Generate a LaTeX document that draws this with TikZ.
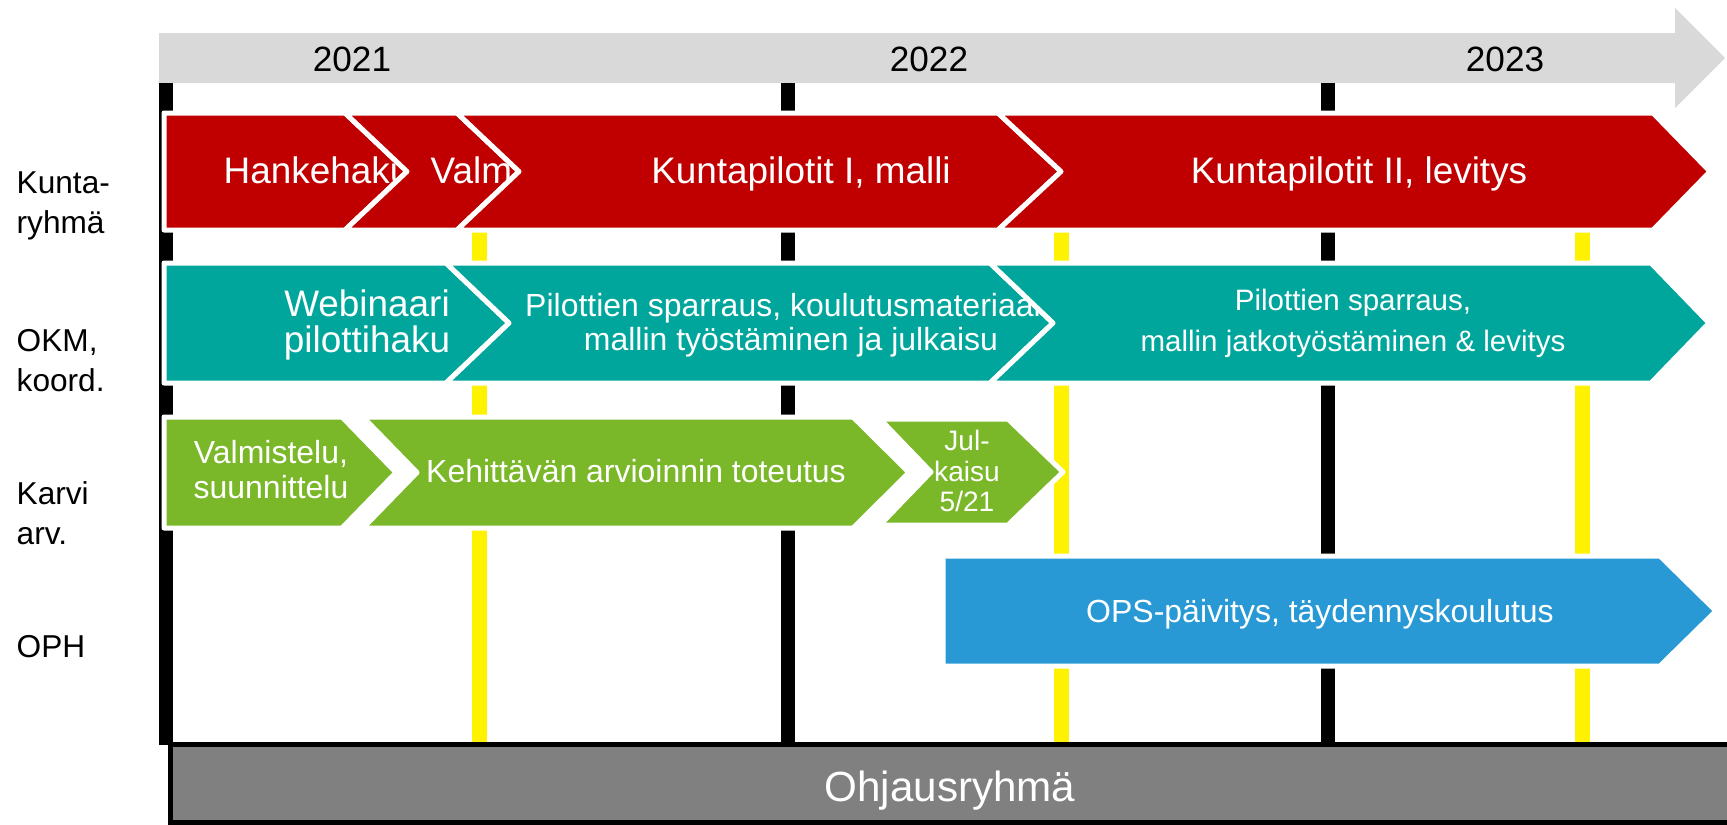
\documentclass[tikz,border=0pt]{standalone}
\usepackage{fontspec}
\setmainfont{Liberation Sans}
\definecolor{kuntared}{RGB}{192,0,0}
\definecolor{okmteal}{RGB}{0,166,156}
\definecolor{karvigreen}{RGB}{122,184,42}
\definecolor{ophblue}{RGB}{41,153,214}
\definecolor{axisgray}{RGB}{217,217,217}
\definecolor{boxgray}{RGB}{128,128,128}
\begin{document}
\begin{tikzpicture}[x=0.1mm,y=-0.1mm,
    bar/.style={draw=white,line width=0.5mm,line join=round},
    barlabel/.style={text=white,inner sep=0pt,align=center},
    rowlabel/.style={inner sep=0pt,align=left,anchor=north west,font=\fontsize{9pt}{11.4pt}\selectfont},
    blackline/.style={line width=1.4mm},
    yellowline/.style={yellow,line width=1.5mm}]
    \useasboundingbox (0,0) rectangle (1727,824);
    % time axis
    \fill[axisgray] (159,33) -- (1675,33) -- (1675,8) -- (1725,58) -- (1675,108) -- (1675,83) -- (159,83) -- cycle;
    \node[inner sep=0pt,anchor=base,font=\fontsize{10pt}{12pt}\selectfont] (y2021) at (352,71) {2021};
    \node[inner sep=0pt,anchor=base,font=\fontsize{10pt}{12pt}\selectfont] (y2022) at (929,71) {2022};
    \node[inner sep=0pt,anchor=base,font=\fontsize{10pt}{12pt}\selectfont] (y2023) at (1505,71) {2023};
    % vertical lines
    \draw[blackline] (166,83) -- (166,745);
    \draw[blackline] (788,83) -- (788,745);
    \draw[blackline] (1328,83) -- (1328,745);
    \foreach \x in {479,1061,1582}
        \draw[yellowline] (\x,113) -- (\x,745);
    % Kuntaryhma
    \filldraw[bar,fill=kuntared] (164,113) -- (345,113) -- (407,171.5) -- (345,230) -- (164,230) -- cycle;
    \node[barlabel,anchor=base west,font=\fontsize{10.5pt}{12pt}\selectfont] (haku) at (223,183) {Hankehaku};
    \filldraw[bar,fill=kuntared] (345,113) -- (457,113) -- (519,171.5) -- (457,230) -- (345,230) -- (407,171.5) -- cycle;
    \node[barlabel,anchor=base west,font=\fontsize{10.5pt}{12pt}\selectfont] (valm) at (430,183) {Valm};
    \filldraw[bar,fill=kuntared] (457,113) -- (998,113) -- (1061,171.5) -- (998,230) -- (457,230) -- (519,171.5) -- cycle;
    \node[barlabel,anchor=base,font=\fontsize{10.5pt}{12pt}\selectfont] (pilotit1) at (801,183) {Kuntapilotit I, malli};
    \filldraw[bar,fill=kuntared] (998,113) -- (1653,113) -- (1710,171.5) -- (1653,230) -- (998,230) -- (1061,171.5) -- cycle;
    \node[barlabel,anchor=base,font=\fontsize{10.5pt}{12pt}\selectfont] (pilotit2) at (1359,183) {Kuntapilotit II, levitys};
    % OKM
    \filldraw[bar,fill=okmteal] (164,263) -- (446,263) -- (509,323) -- (446,383) -- (164,383) -- cycle;
    \node[barlabel,anchor=north,font=\fontsize{10.5pt}{10.2pt}\selectfont] (webinaari) at (367,289) {Webinaari\\pilottihaku};
    \filldraw[bar,fill=okmteal] (446,263) -- (990,263) -- (1053,323) -- (990,383) -- (446,383) -- (509,323) -- cycle;
    \node[barlabel,anchor=north,font=\fontsize{9.1pt}{9.7pt}\selectfont] (sparraus1) at (791,292.5) {Pilottien sparraus, koulutusmateriaali,\\mallin työstäminen ja julkaisu};
    \filldraw[bar,fill=okmteal] (990,263) -- (1651,263) -- (1709,323) -- (1651,383) -- (990,383) -- (1053,323) -- cycle;
    \node[barlabel,anchor=north,font=\fontsize{8.4pt}{11.7pt}\selectfont] (sparraus2) at (1353,288) {Pilottien sparraus,\\mallin jatkotyöstäminen \& levitys};
    % Karvi
    \filldraw[bar,fill=karvigreen] (164,417) -- (342,417) -- (396,472.5) -- (342,528) -- (164,528) -- cycle;
    \node[barlabel,anchor=north,font=\fontsize{9.1pt}{10pt}\selectfont] (valmistelu) at (271,439.5) {Valmistelu,\\suunnittelu};
    \filldraw[bar,fill=karvigreen] (363,417) -- (853,417) -- (909,472.5) -- (853,528) -- (363,528) -- (417,472.5) -- cycle;
    \node[barlabel,anchor=base,font=\fontsize{9.1pt}{10pt}\selectfont] (toteutus) at (636,482) {Kehittävän arvioinnin toteutus};
    \filldraw[bar,fill=karvigreen] (880,419) -- (1008,419) -- (1063,472) -- (1008,525) -- (880,525) -- (931,472) -- cycle;
    \node[barlabel,anchor=north,font=\fontsize{8pt}{8.7pt}\selectfont] (julkaisu) at (967,429.5) {Jul-\\kaisu\\5/21};
    % OPH
    \filldraw[bar,fill=ophblue] (943,556) -- (1660,556) -- (1716,611) -- (1660,666) -- (943,666) -- cycle;
    \node[barlabel,anchor=base,font=\fontsize{9.1pt}{10pt}\selectfont] (ops) at (1320,622) {OPS-päivitys, täydennyskoulutus};
    % Ohjausryhma
    \filldraw[fill=boxgray,draw=black,line width=0.5mm] (170.5,744.5) rectangle (1740,822);
    \node[barlabel,anchor=base,font=\fontsize{12pt}{14pt}\selectfont] (ohjaus) at (950,801) {Ohjausryhmä};
    % row labels
    \node[rowlabel] (kunta) at (16,171) {Kunta-\\ryhmä};
    \node[rowlabel] (okm) at (16,329) {OKM,\\koord.};
    \node[rowlabel] (karvi) at (16,481) {Karvi\\arv.};
    \node[rowlabel,anchor=base west] (oph) at (16,657) {OPH};
\end{tikzpicture}
\end{document}
